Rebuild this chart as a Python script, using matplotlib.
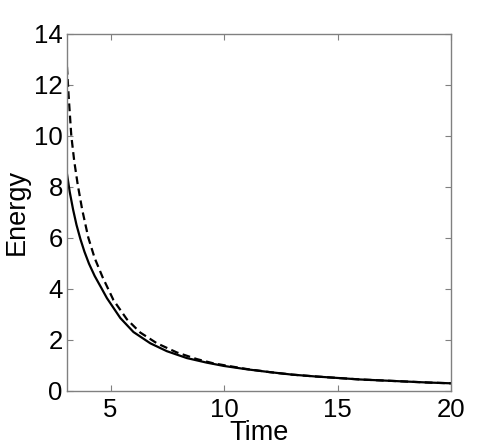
import matplotlib
matplotlib.use("Agg")
import matplotlib.pyplot as plt

plt.rcParams['font.family'] = ['Liberation Sans', 'DejaVu Sans']

t_solid = [3.08, 3.2, 3.35, 3.5, 3.67, 3.85, 4.05, 4.3, 4.6, 4.84, 5.43, 6.01, 6.75,
           7.48, 8.36, 9.24, 10, 11, 12, 13, 14, 15, 16, 17, 18, 19, 20]
e_solid = [8.5, 7.8, 7.1, 6.5, 5.95, 5.45, 4.98, 4.5, 4.02, 3.63, 2.85, 2.3, 1.86,
           1.55, 1.28, 1.1, 0.97, 0.84, 0.73, 0.63, 0.56, 0.5, 0.44, 0.4, 0.36, 0.32, 0.29]

t_dashed = [3.08, 3.15, 3.27, 3.4, 3.55, 3.75, 4.02, 4.3, 4.65, 5.13, 5.72, 6.31, 7.04,
            7.92, 8.8, 9.5, 10, 11, 12, 13, 14, 15, 16, 17, 18, 19, 20]
e_dashed = [12.7, 11.6, 10.0, 9.0, 8.1, 7.1, 6.0, 5.2, 4.45, 3.55, 2.8, 2.28, 1.86,
            1.5, 1.24, 1.08, 1.0, 0.85, 0.73, 0.63, 0.56, 0.5, 0.44, 0.4, 0.36, 0.32, 0.29]

x_ticks = [5, 10, 15, 20]
y_ticks = [0, 2, 4, 6, 8, 10, 12, 14]

fig = plt.figure(figsize=(4.98, 4.48), dpi=100)
ax = fig.add_axes([0.1345, 0.1279, 0.7711, 0.7969])

ax.plot(t_solid, e_solid, color='black', lw=1.6, linestyle='-')
ax.plot(t_dashed, e_dashed, color='black', lw=1.6, linestyle=(0, (3.5, 2.0)))

ax.set_xlim(3.08, 20)
ax.set_ylim(0, 14)
ax.set_xticks(x_ticks)
ax.set_yticks(y_ticks)

for s in ax.spines.values():
    s.set_color('#808080')
    s.set_linewidth(1.0)

ax.tick_params(direction='in', length=4, width=0.8, color='#808080',
               top=True, right=True, labelsize=18.5, labelcolor='black')
ax.tick_params(axis='x', pad=5)
ax.tick_params(axis='y', pad=3)

ax.set_xlabel('Time', fontsize=19.5, labelpad=-1)
ax.set_ylabel('Energy', fontsize=19.5, labelpad=3)

fig.savefig('out.png', dpi=100)
